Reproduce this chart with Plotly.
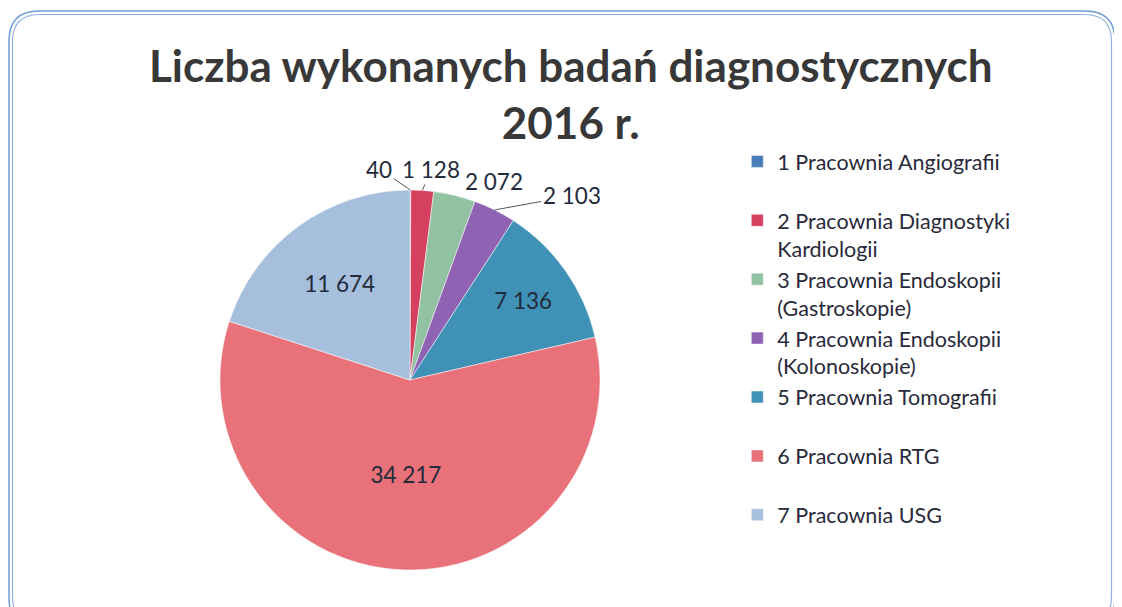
import math
import plotly.graph_objects as go

labels = ["1 Pracownia Angiografii", "2 Pracownia Diagnostyki<br>Kardiologii",
          "3 Pracownia Endoskopii<br>(Gastroskopie)", "4 Pracownia Endoskopii<br>(Kolonoskopie)",
          "5 Pracownia Tomografii", "6 Pracownia RTG", "7 Pracownia USG"]
values = [40, 1128, 2072, 2103, 7136, 34217, 11674]
colors = ["#4a7ebb", "#d6405f", "#92c2a2", "#9062b3", "#3f91b6", "#e9717a", "#a6bfdc"]
inside = [False, False, False, False, True, True, True]
# label offsets (pixels) for the small slices, leader line shown or not
label_offsets = [(-31, -21, True), (9, -21, True), (39, -14, False), (77, -14, True)]

W, H = 1122, 607
OFF = 8  # page offset of the figure inside the browser window
cx, cy, r = 410 - OFF, 380 - OFF, 190

leg_names = [l if "<br>" in l else l + "<br> " for l in labels]
texts = [f"{v:,}".replace(",", " ") if ins else "" for v, ins in zip(values, inside)]

fig = go.Figure(go.Pie(
    labels=leg_names, values=values, sort=False, direction="clockwise", rotation=0,
    marker=dict(colors=colors, line=dict(color="white", width=0.5)),
    text=texts, textinfo="text", textposition="inside", insidetextorientation="horizontal",
    textfont=dict(size=22.5, color="#222b3c", family="Lato"),
    domain=dict(x=[(cx - r) / W, (cx + r) / W],
                y=[(H - cy - r) / H, (H - cy + r) / H]),
    hoverinfo="label+value",
))

total = sum(values)
annotations = []
cum = 0
for i, v in enumerate(values):
    mid = (cum + v / 2) / total * 2 * math.pi
    cum += v
    if inside[i]:
        continue
    px_ = cx + r * math.sin(mid)
    py_ = cy - r * math.cos(mid)
    ax, ay, line = label_offsets[i]
    txt = f"{v:,}".replace(",", " ")
    common = dict(xref="paper", yref="paper", x=px_ / W, y=1 - py_ / H, text=txt,
                  font=dict(size=22.5, color="#222b3c", family="Lato"))
    if line:
        annotations.append(dict(**common, showarrow=True, ax=ax, ay=ay, arrowhead=0,
                                arrowwidth=1, arrowcolor="#555555", standoff=0, startstandoff=0))
    else:
        annotations.append(dict(**common, showarrow=False, xanchor="center", yanchor="middle",
                                xshift=ax, yshift=-ay))

annotations.append(dict(
    xref="paper", yref="paper", x=(571 - OFF) / W, y=1 - (93 - OFF) / H,
    xanchor="center", yanchor="middle",
    text="<b>Liczba wykonanych badań diagnostycznych<br>2016 r.</b>", showarrow=False,
    font=dict(size=44, color="#383838", family="Lato")))

def rrect(x0, y0, x1, y1, rad):
    px = lambda x: x / W
    py = lambda y: 1 - y / H
    return (f"M {px(x0+rad)} {py(y0)} L {px(x1-rad)} {py(y0)} "
            f"Q {px(x1)} {py(y0)} {px(x1)} {py(y0+rad)} L {px(x1)} {py(y1-rad)} "
            f"Q {px(x1)} {py(y1)} {px(x1-rad)} {py(y1)} L {px(x0+rad)} {py(y1)} "
            f"Q {px(x0)} {py(y1)} {px(x0)} {py(y1-rad)} L {px(x0)} {py(y0+rad)} "
            f"Q {px(x0)} {py(y0)} {px(x0+rad)} {py(y0)} Z")

shapes = [
    dict(type="path", xref="paper", yref="paper", path=rrect(1, 3, 1107, 620, 30),
         line=dict(color="#6f9fd8", width=1.5)),
    dict(type="path", xref="paper", yref="paper", path=rrect(4.5, 6.5, 1103.5, 616, 27),
         line=dict(color="#8fb4e2", width=1.2)),
]

fig.update_layout(
    width=W, height=H, margin=dict(l=0, r=0, t=0, b=0),
    paper_bgcolor="white", plot_bgcolor="white",
    legend=dict(x=0.650, xanchor="left", y=0.781, yanchor="top",
                font=dict(size=21.5, color="#2a2a3a", family="Lato"),
                itemwidth=30, valign="top", traceorder="normal"),
    shapes=shapes, annotations=annotations,
)

fig.write_html("out.html")
